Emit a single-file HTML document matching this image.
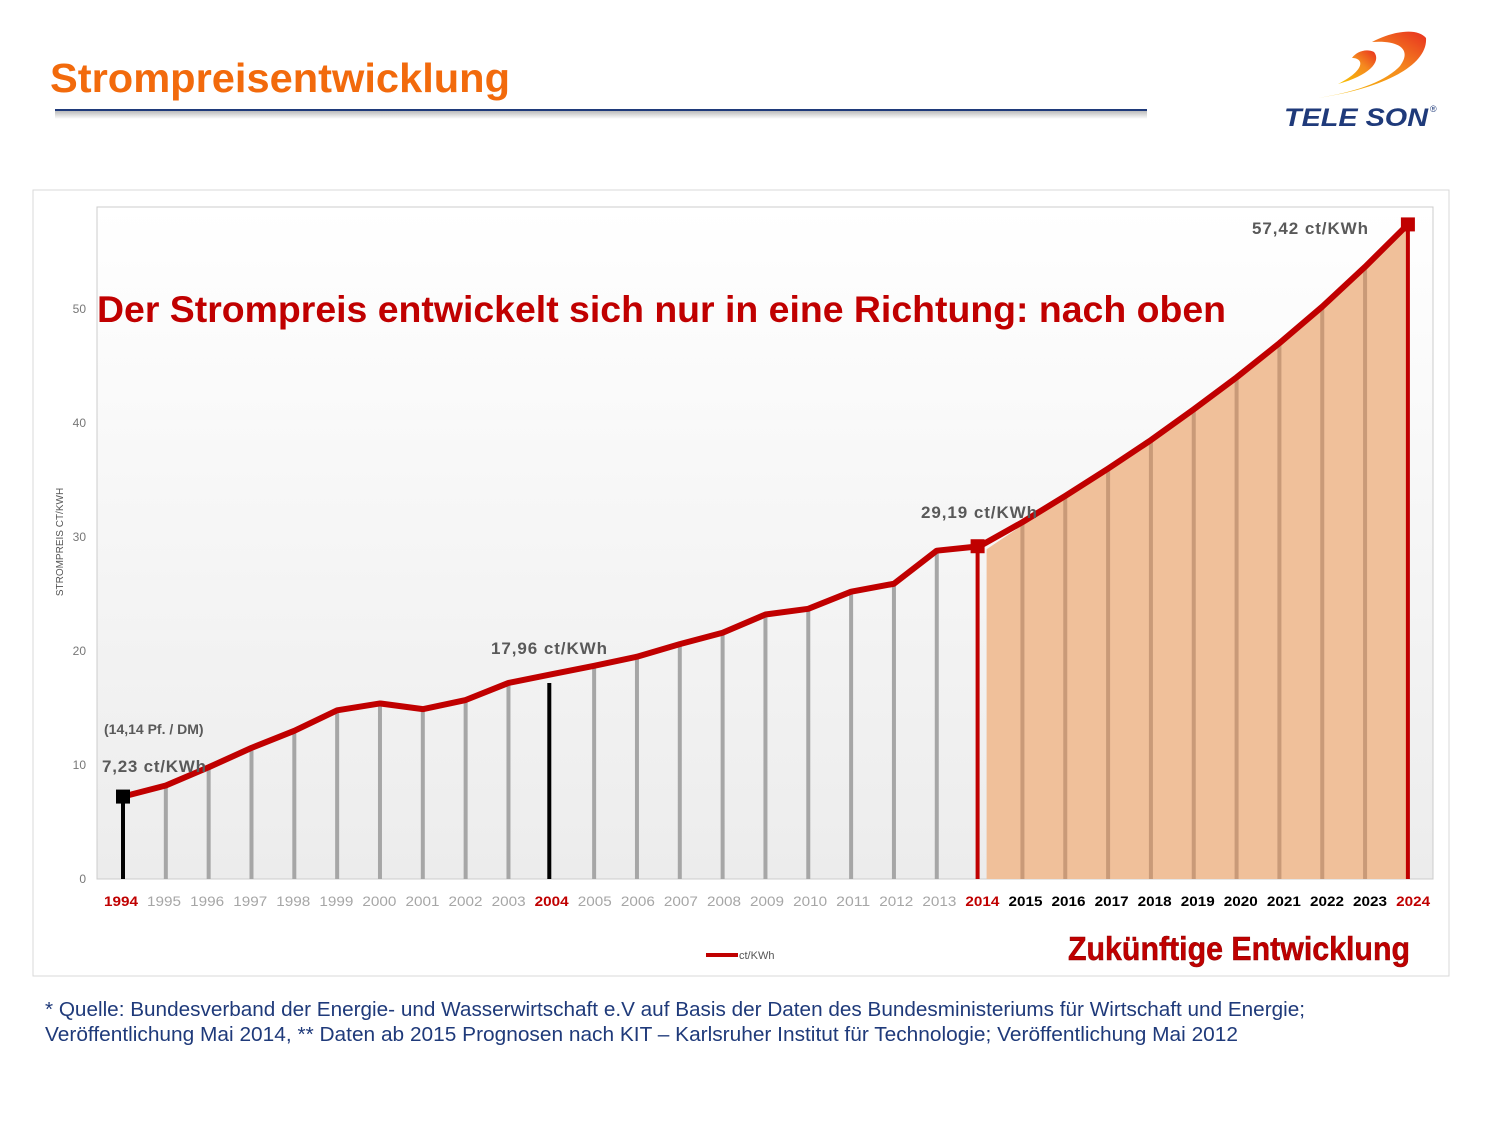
<!DOCTYPE html>
<html><head><meta charset="utf-8"><style>
body{margin:0;width:1500px;height:1125px;background:#fff;font-family:"Liberation Sans",sans-serif;overflow:hidden}
</style></head><body>
<svg width="1500" height="1125" xmlns="http://www.w3.org/2000/svg" font-family="Liberation Sans, sans-serif">
<defs>
<linearGradient id="bg" x1="0" y1="0" x2="0" y2="1"><stop offset="0" stop-color="#ffffff"/><stop offset="1" stop-color="#ececec"/></linearGradient>
<linearGradient id="sw" x1="0" y1="1" x2="1" y2="0"><stop offset="0" stop-color="#f7c400"/><stop offset="0.6" stop-color="#f58a1f"/><stop offset="1" stop-color="#e8301f"/></linearGradient>
<linearGradient id="sh" x1="0" y1="0" x2="0" y2="1"><stop offset="0" stop-color="#bbb"/><stop offset="1" stop-color="#fff"/></linearGradient>
</defs>
<text x="50" y="92" font-size="41" font-weight="bold" fill="#f26a0c" textLength="460" lengthAdjust="spacingAndGlyphs">Strompreisentwicklung</text>
<rect x="55" y="111" width="1092" height="8" fill="url(#sh)"/>
<line x1="55" y1="110" x2="1147" y2="110" stroke="#1f3a7a" stroke-width="2"/>
<!-- logo -->
<path d="M1318 98 C1385 88 1428 65 1426 38 C1418 28 1395 30 1372 42 C1400 40 1412 50 1400 66 C1385 82 1355 92 1318 98 Z" fill="url(#sw)"/>
<path d="M1338 84 C1368 76 1382 62 1374 52 C1366 48 1356 52 1352 58 C1364 58 1366 70 1338 84Z" fill="url(#sw)"/>
<text x="1284" y="126" font-size="25" font-weight="bold" font-style="italic" fill="#1f3a7a" textLength="144" lengthAdjust="spacingAndGlyphs">TELE SON</text>
<text x="1430" y="112" font-size="9" fill="#1f3a7a">®</text>
<!-- chart frame -->
<rect x="33" y="190" width="1416" height="786" fill="#fff" stroke="#d9d9d9"/>
<rect x="97" y="207" width="1336" height="672" fill="url(#bg)" stroke="#ccc"/>
<g font-size="12" fill="#777" text-anchor="end">
<text x="86" y="883">0</text><text x="86" y="769">10</text><text x="86" y="655">20</text><text x="86" y="541">30</text><text x="86" y="427">40</text><text x="86" y="313">50</text>
</g>
<text transform="translate(63,542) rotate(-90)" font-size="10" fill="#555" text-anchor="middle">STROMPREIS CT/KWH</text>
<g id="chart"></g>
<text x="97" y="322" font-size="37" font-weight="bold" fill="#c00000" textLength="1129" lengthAdjust="spacingAndGlyphs">Der Strompreis entwickelt sich nur in eine Richtung: nach oben</text>
<g font-size="17" font-weight="bold" fill="#595959">
<text x="102" y="772" textLength="104">7,23 ct/KWh</text>
<text x="491" y="654" textLength="116">17,96 ct/KWh</text>
<text x="921" y="518" textLength="116">29,19 ct/KWh</text>
<text x="1252" y="234" textLength="116">57,42 ct/KWh</text>
</g>
<text x="104" y="734" font-size="14" font-weight="bold" fill="#595959">(14,14 Pf. / DM)</text>
<line x1="706" y1="955" x2="738" y2="955" stroke="#c00000" stroke-width="4"/>
<text x="739" y="959" font-size="11" fill="#555">ct/KWh</text>
<text x="1068" y="960" font-size="33" font-weight="bold" fill="#c00000" stroke="#8a0000" stroke-width="0.5" textLength="342" lengthAdjust="spacingAndGlyphs">Zukünftige Entwicklung</text>
<g font-size="20" fill="#1f3a7a">
<text x="45" y="1016" textLength="1260" lengthAdjust="spacingAndGlyphs">* Quelle: Bundesverband der Energie- und Wasserwirtschaft e.V auf Basis der Daten des Bundesministeriums für Wirtschaft und Energie;</text>
<text x="45" y="1041" textLength="1193" lengthAdjust="spacingAndGlyphs">Veröffentlichung Mai 2014,  ** Daten ab 2015 Prognosen nach KIT – Karlsruher Institut für Technologie; Veröffentlichung Mai 2012</text>
</g>
</svg>
<script>
const v=[7.23,8.2,9.8,11.5,13,14.8,15.4,14.9,15.7,17.2,17.96,18.7,19.5,20.6,21.6,23.2,23.7,25.2,25.9,28.8,29.19,31.3,33.6,36,38.5,41.2,44,47,50.2,53.7,57.42];
const X=i=>123+i*42.83, Y=u=>879-u*11.4;
let s='';
let pts=[[X(20)+7,879]];for(let i=20;i<=30;i++)pts.push([i==20?X(20)+7:X(i),Y(v[i])+3]);pts.push([X(30),879]);
s+=`<polygon points="${pts.map(p=>p.join(',')).join(' ')}" fill="#f0c09a"/>`;
for(let i=1;i<30;i++){if(i==10||i==20)continue;const c=i>20?'#c99a78':'#a6a6a6';s+=`<line x1="${X(i)}" y1="879" x2="${X(i)}" y2="${Y(v[i])}" stroke="${c}" stroke-width="4"/>`;}
s+=`<line x1="${X(0)}" y1="879" x2="${X(0)}" y2="${Y(v[0])}" stroke="#000" stroke-width="4"/>`;
s+=`<line x1="${X(10)-2}" y1="879" x2="${X(10)-2}" y2="683" stroke="#000" stroke-width="4"/>`;
s+=`<line x1="${X(20)-2}" y1="879" x2="${X(20)-2}" y2="${Y(v[20])}" stroke="#c00000" stroke-width="4"/>`;
s+=`<line x1="${X(30)}" y1="879" x2="${X(30)}" y2="${Y(v[30])}" stroke="#c00000" stroke-width="4"/>`;
s+=`<polyline points="${v.map((u,i)=>X(i)+','+Y(u)).join(' ')}" fill="none" stroke="#c00000" stroke-width="6" stroke-linejoin="round"/>`;
s+=`<rect x="${X(0)-7}" y="${Y(v[0])-7}" width="14" height="14" fill="#000"/>`;
s+=`<rect x="${X(20)-9}" y="${Y(v[20])-7}" width="14" height="14" fill="#c00000"/>`;
s+=`<rect x="${X(30)-7}" y="${Y(v[30])-7}" width="14" height="14" fill="#c00000"/>`;
for(let i=0;i<=30;i++){const x=121+i*43.07;let c='#a6a6a6',w='normal';if(i==0||i==10||i==20||i==30){c='#c00000';w='bold'}else if(i>20){c='#000';w='bold'}
s+=`<text x="${x}" y="906" font-size="14" text-anchor="middle" fill="${c}" font-weight="${w}" textLength="34" lengthAdjust="spacingAndGlyphs">${1994+i}</text>`;}
document.getElementById('chart').innerHTML=s;
</script>
</body></html>
